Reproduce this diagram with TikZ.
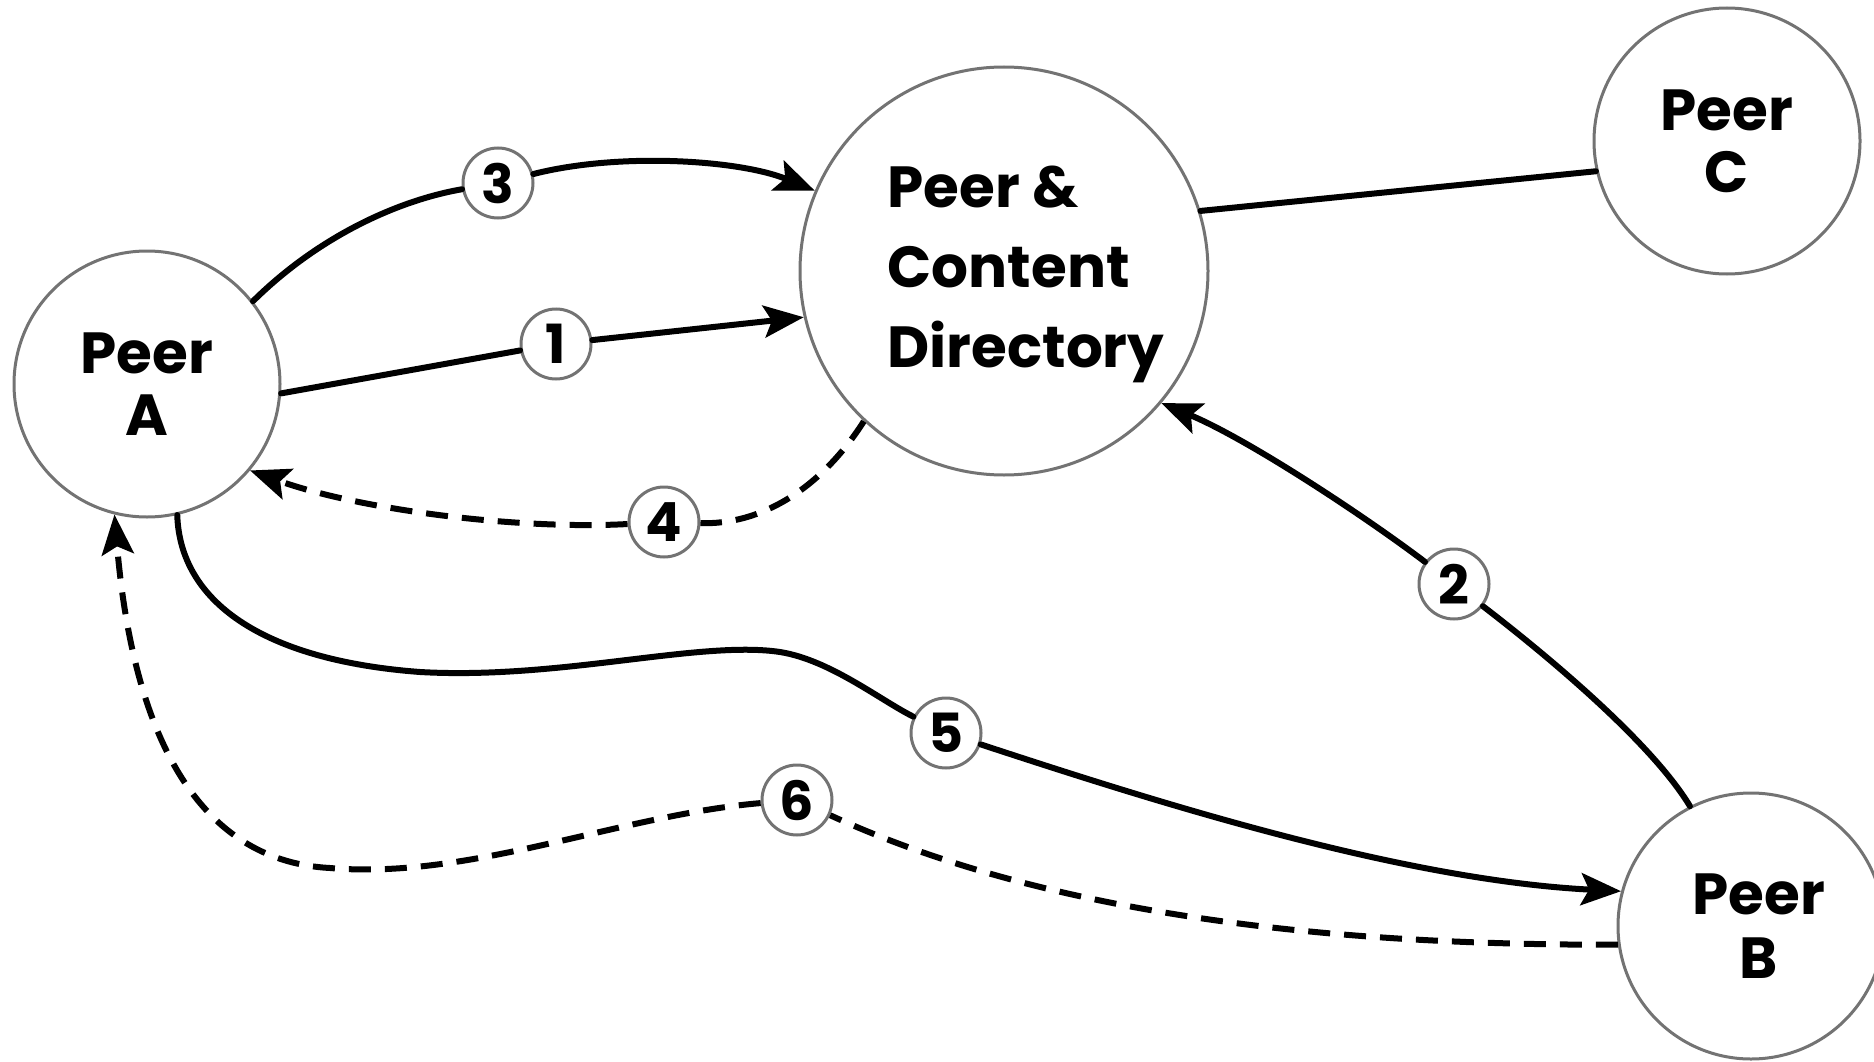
\documentclass[tikz,border=0pt]{standalone}
\usepackage{fontspec}
\newfontfamily\handfont{Poppins}
\usetikzlibrary{arrows.meta}
\tikzset{
  peer/.style={circle, draw=black!55, line width=3pt, fill=white,
    minimum size=266pt, inner sep=0pt, align=center,
    font=\handfont\bfseries\fontsize{58}{68}\selectfont},
  num/.style={circle, draw=black!55, line width=3pt, fill=white,
    minimum size=70pt, inner sep=0pt,
    font=\handfont\bfseries\fontsize{54}{54}\selectfont},
  edge/.style={line width=6pt, black, line cap=round},
  dashededge/.style={line width=6pt, black, line cap=butt,
    dash pattern=on 22pt off 14pt},
  arr/.style={-{Stealth[length=40pt,width=32pt,inset=8pt]}}
}
\begin{document}
\begin{tikzpicture}[x=1pt,y=-1pt]
\useasboundingbox (0,0) rectangle (1874,1062);

% peers and the directory
\node[peer] (A) at (147,384) {Peer\\[-6pt]A};
\node[peer, minimum size=408pt,
      font=\handfont\bfseries\fontsize{58}{80}\selectfont] (D) at (1004,271)
      {\begin{tabular}{@{\hspace{44pt}}l@{}}Peer \&\\Content\\Directory\end{tabular}};
\node[peer] (C) at (1727,141) {Peer\\[-6pt]C};
\node[peer] (B) at (1751,926) {\hspace*{16pt}Peer\\[-4pt]\hspace*{16pt}B};

% step numbers
\node[num] (n1) at (556,344) {1};
\node[num] (n2) at (1454,584) {2};
\node[num] (n3) at (498,183) {3};
\node[num] (n4) at (664,522) {4};
\node[num] (n5) at (946,733) {5};
\node[num] (n6) at (797,800) {6};

% directory to peer C
\draw[edge] (D.17) -- (C.193);

% 1: A registers with the directory
\draw[edge] (A.-4) -- (n1);
\draw[edge, arr] (n1) -- (D.193);

% 2: B registers with the directory
\draw[edge] (B.117) .. controls (1650,740) and (1540,650) .. (n2);
\draw[edge, arr] (n2) .. controls (1370,520) and (1250,440) .. (D.-40);

% 3: A queries the directory
\draw[edge] (A.38) .. controls (320,235) and (400,200) .. (n3);
\draw[edge, arr] (n3) .. controls (620,152) and (740,160) .. (D.157);

% 4: directory answers A
\draw[dashededge] (D.227) .. controls (820,490) and (760,525) .. (n4);
\draw[dashededge, arr] (n4) .. controls (520,530) and (360,510) .. (A.-40);

% 5: A requests content from B
\draw[edge] (A.-77) .. controls (180,600) and (260,660) .. (420,672)
  .. controls (560,680) and (700,640) .. (780,652)
  .. controls (830,660) and (880,700) .. (n5);
\draw[edge, arr] (n5) .. controls (1150,800) and (1400,880) .. (B.165);

% 6: B delivers content to A
\draw[dashededge] (B.188) .. controls (1400,945) and (1080,930) .. (n6);
\draw[dashededge, arr] (n6) .. controls (620,815) and (470,880) .. (330,868)
  .. controls (180,860) and (130,700) .. (A.256);
\end{tikzpicture}
\end{document}
